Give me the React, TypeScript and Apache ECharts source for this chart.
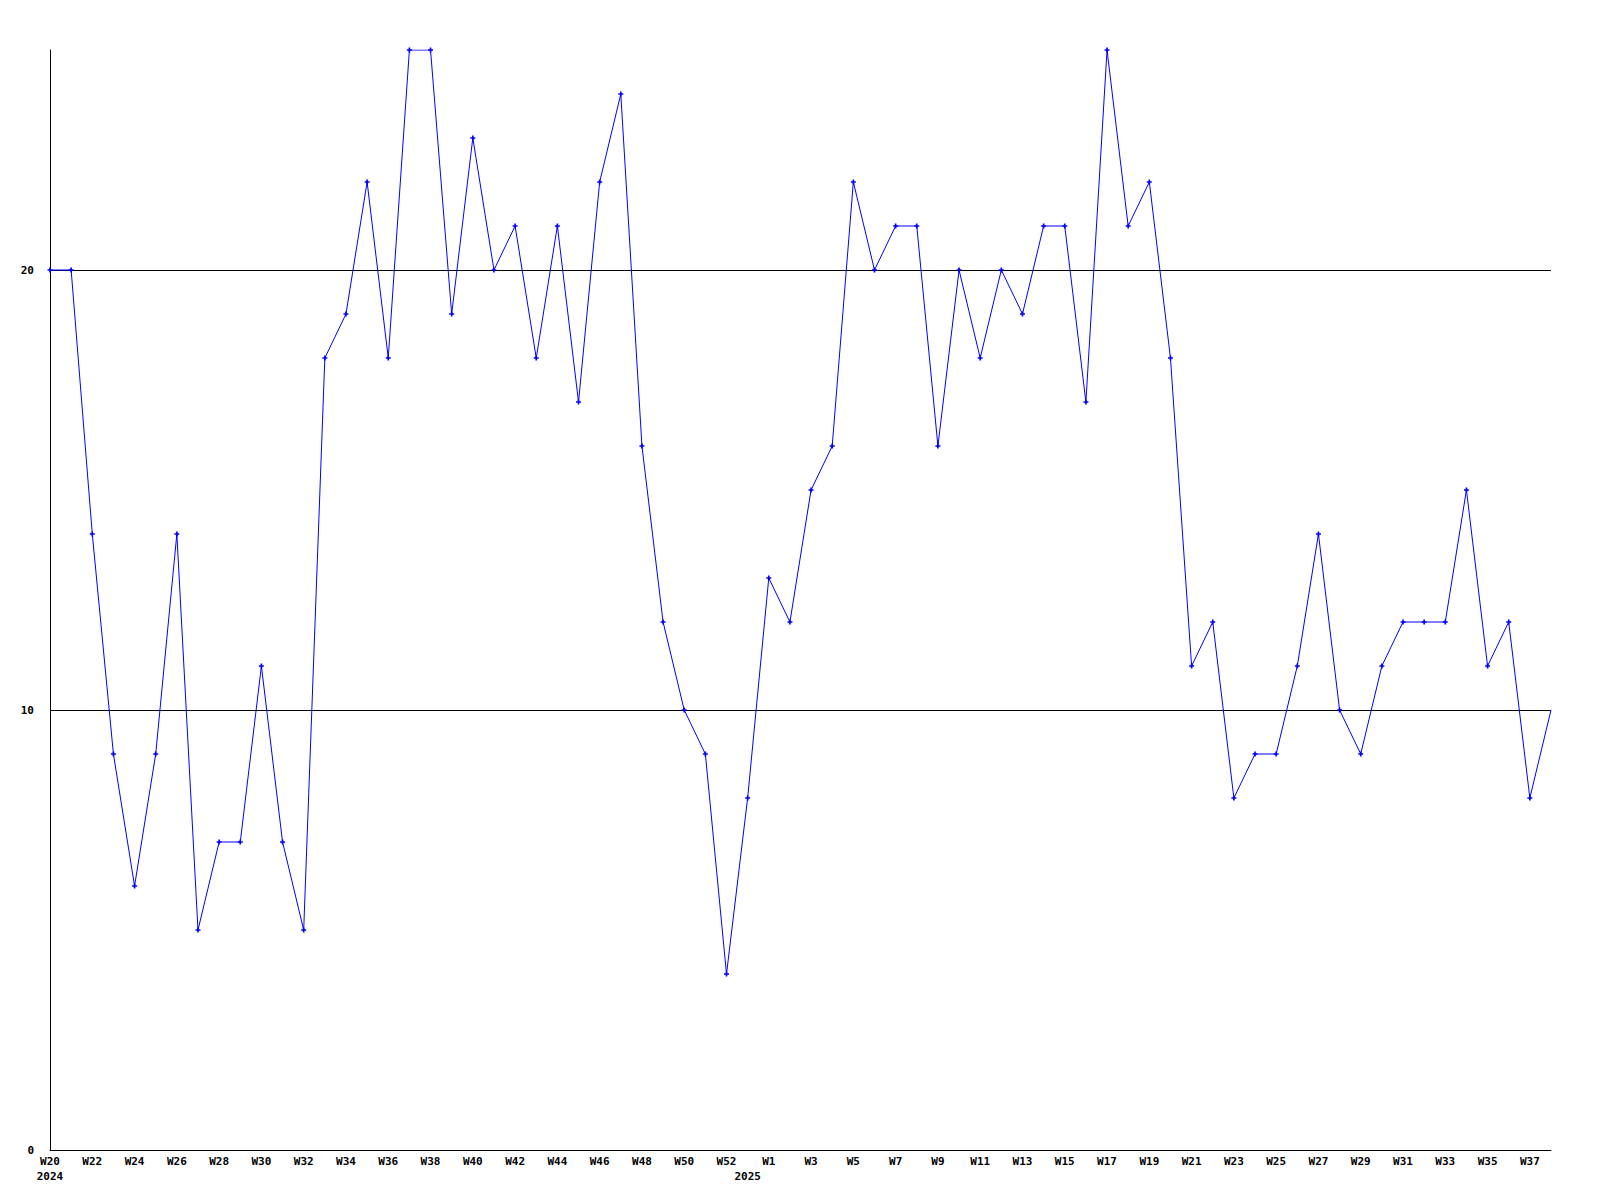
import React, { useEffect, useRef } from "react";
import * as echarts from "echarts";

const weeks: string[] = [
  "W20","W21","W22","W23","W24","W25","W26","W27","W28","W29","W30","W31","W32","W33","W34","W35","W36",
  "W37","W38","W39","W40","W41","W42","W43","W44","W45","W46","W47","W48","W49","W50","W51","W52","W53",
  "W1","W2","W3","W4","W5","W6","W7","W8","W9","W10","W11","W12","W13","W14","W15","W16","W17","W18","W19",
  "W20","W21","W22","W23","W24","W25","W26","W27","W28","W29","W30","W31","W32","W33","W34","W35","W36","W37","W38",
];
// year labels, keyed by the category position they sit under
const yearLabels: Record<number, string> = { 0: "2024", 33: "2025" };

const values: number[] = [
  20, 20, 14, 9, 6, 9, 14, 5, 7, 7, 11, 7, 5, 18, 19, 22, 18,
  25, 25, 19, 23, 20, 21, 18, 21, 17, 22, 24, 16, 12, 10, 9, 4, 8,
  13, 12, 15, 16, 22, 20, 21, 21, 16, 20, 18, 20, 19, 21, 21, 17, 25, 21, 22,
  18, 11, 12, 8, 9, 9, 11, 14, 10, 9, 11, 12, 12, 12, 15, 11, 12, 8, 10,
];

const yTicks = { min: 0, max: 25, interval: 10 };

const FONT = "DejaVu Sans Mono";
const PLUS = "path://M1,0h1v1h1v1h-1v1h-1v-1h-1v-1h1z";

const labelFont = {
  color: "#000",
  fontFamily: FONT,
  fontSize: 11,
  fontWeight: "bold" as const,
};

export default function App() {
  const ref = useRef<HTMLDivElement>(null);
  useEffect(() => {
    if (!ref.current) return;
    const chart = echarts.init(ref.current, null, { renderer: "svg" });
    const data = values.map((v, i) =>
      i === values.length - 1 ? { value: v, symbol: "none" } : v
    );
    chart.setOption({
      animation: false,
      backgroundColor: "#ffffff",
      grid: { left: 50, right: 49, top: 50, bottom: 50, containLabel: false },
      xAxis: [
        {
          type: "category",
          data: weeks,
          boundaryGap: false,
          axisLine: { show: true, lineStyle: { color: "#000", width: 1 } },
          axisTick: { show: false },
          splitLine: { show: false },
          axisLabel: { ...labelFont, interval: 1, margin: 6 },
        },
        {
          type: "category",
          data: weeks,
          position: "bottom",
          boundaryGap: false,
          axisLine: { show: false },
          axisTick: { show: false },
          splitLine: { show: false },
          axisLabel: {
            ...labelFont,
            interval: 0,
            margin: 21,
            formatter: (_v: string, idx: number) => yearLabels[idx] ?? "",
          },
        },
      ],
      yAxis: {
        type: "value",
        min: yTicks.min,
        max: yTicks.max,
        interval: yTicks.interval,
        axisLine: { show: true, lineStyle: { color: "#000", width: 1 } },
        axisTick: { show: false },
        splitLine: {
          show: true,
          showMinLine: false,
          showMaxLine: false,
          lineStyle: { color: "#000", width: 1 },
        },
        axisLabel: { ...labelFont, showMaxLabel: false, margin: 16 },
      },
      series: [
        {
          type: "line",
          xAxisIndex: 0,
          data,
          symbol: PLUS,
          symbolSize: 5,
          showAllSymbol: true,
          lineStyle: { color: "#0000ff", width: 1 },
          itemStyle: { color: "#0000ff" },
          emphasis: { disabled: true },
        },
      ],
    });
    return () => chart.dispose();
  }, []);
  return <div ref={ref} style={{ width: 1600, height: 1200, position: "absolute", left: 0, top: 0 }} />;
}
